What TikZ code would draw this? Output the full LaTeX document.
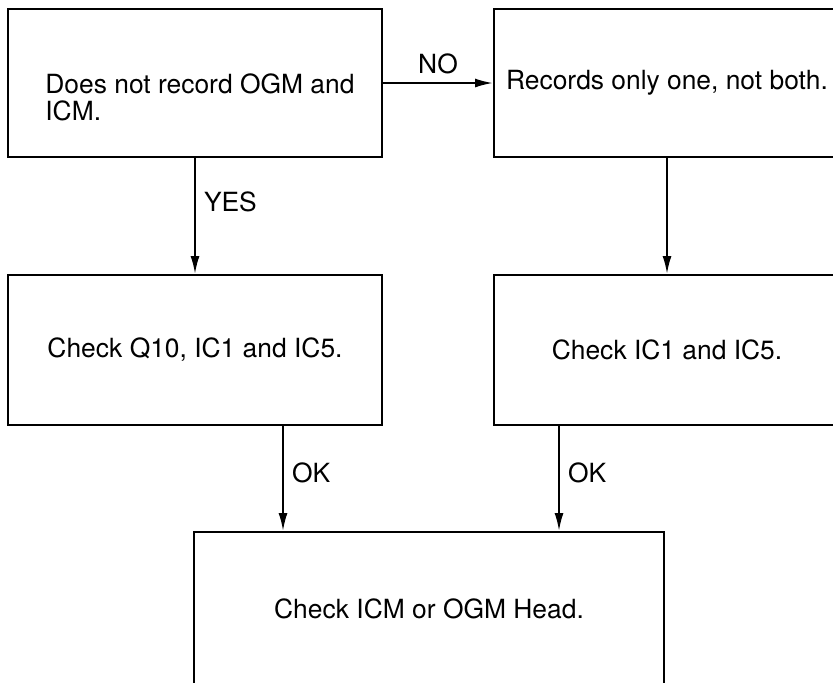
\documentclass[tikz,border=0pt]{standalone}
\usepackage{fontspec}
\setmainfont{TeX Gyre Heros}
\usepackage{tikz}
\usetikzlibrary{
  arrows.meta,
  positioning,
  calc
}

\begin{document}
\begin{tikzpicture}[
    x=0.5pt, y=-0.5pt,
    box/.style={draw, line width=1pt, inner sep=0pt, font=\fontsize{13.2}{13.5}\selectfont},
    txt/.style={inner sep=0pt, align=left, font=\fontsize{13.2}{13.5}\selectfont},
    lbl/.style={inner sep=4pt, font=\fontsize{13.2}{13.5}\selectfont},
    arr/.style={-{Latex[length=9pt,width=4.5pt]}, line width=1pt}
  ]
    \useasboundingbox (0,0) rectangle (833,682);
    \node[box, minimum width=187pt, minimum height=74pt] (b1) at (195,83) {};
    \node[txt, anchor=north west] (b1t) at (45,73) {Does not record OGM and\\ICM.};
    \node[box, minimum width=173pt, minimum height=74pt] (b2) at (667,83) {Records only one, not both.};
    \node[box, minimum width=187pt, minimum height=75pt] (b3) at (195,350) {Check Q10, IC1 and IC5.};
    \node[box, minimum width=173pt, minimum height=75pt] (b4) at (667,350) {Check IC1 and IC5.};
    \node[box, minimum width=235pt, minimum height=77pt] (b5) at (429,609) {Check ICM or OGM Head.};
    \coordinate (okl) at (283,0);
    \coordinate (okr) at (559,0);
    \draw[arr] (b1.east) -- (b2.west) node[lbl, midway, above] {NO};
    \draw[arr] (b1.south) -- (b3.north) node[lbl, pos=0.38, right] {YES};
    \draw[arr] (b2.south) -- (b4.north);
    \draw[arr] (b3.south -| okl) -- (b5.north -| okl) node[lbl, pos=0.45, right] {OK};
    \draw[arr] (b4.south -| okr) -- (b5.north -| okr) node[lbl, pos=0.45, right] {OK};
  \end{tikzpicture}
\end{document}
